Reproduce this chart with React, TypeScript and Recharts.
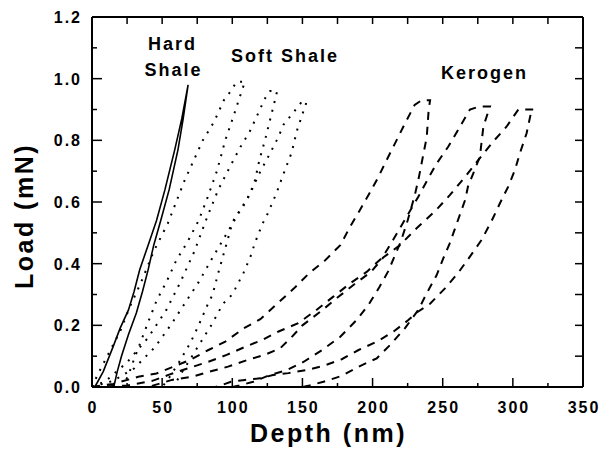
import React from 'react';
import { LineChart, Line, XAxis, YAxis, ReferenceDot, Label } from 'recharts';

type Pt = [number, number];

// depth (nm), load (mN) — loading branch, hold, then unloading branch
const hardShale: Pt[] = [
  [2, 0], [8, 0.05], [15, 0.13], [20, 0.19], [26, 0.25], [30, 0.31], [34, 0.38], [40, 0.46],
  [46, 0.54], [52, 0.64], [59, 0.77], [64, 0.87], [68.5, 0.98],
  [65, 0.87], [61.3, 0.77], [55, 0.64], [49, 0.54], [44, 0.46], [40, 0.38], [36, 0.31],
  [31.6, 0.24], [26, 0.17], [21, 0.1], [18, 0.05], [16, 0.01], [15, 0],
];

const softShale1: Pt[] = [
  [0, 0], [4, 0.04], [12, 0.11], [20, 0.18], [27, 0.26], [35, 0.34], [44, 0.44], [54, 0.53],
  [60, 0.6], [66, 0.67], [73, 0.74], [79, 0.8], [87, 0.86], [94, 0.93], [99, 0.96], [103, 0.99],
  [109, 0.99], [106, 0.95], [101, 0.88], [95, 0.8], [89, 0.7], [82, 0.61], [76, 0.54], [68, 0.47],
  [60, 0.41], [53, 0.34], [46, 0.28], [40, 0.21], [35, 0.15], [30, 0.09], [26, 0.04], [22, 0],
];

const softShale2: Pt[] = [
  [0, 0], [10, 0.02], [25, 0.08], [40, 0.16], [53, 0.25], [63, 0.34], [73, 0.44], [82, 0.55],
  [90, 0.64], [99, 0.72], [106, 0.78], [112.6, 0.83], [119.7, 0.9], [123.3, 0.936], [127, 0.96],
  [132, 0.96], [130.4, 0.93], [126.9, 0.866], [123.3, 0.8], [119.3, 0.736], [116.2, 0.67],
  [112, 0.62], [107.6, 0.585], [101.7, 0.55], [99.3, 0.52], [95, 0.45], [90, 0.37], [86, 0.3],
  [82.7, 0.27], [76, 0.2], [70, 0.142], [62, 0.08], [55, 0.03], [50, 0],
];

const softShale3: Pt[] = [
  [0, 0], [15, 0.02], [30, 0.06], [45, 0.13], [56, 0.2], [66, 0.27], [76, 0.34], [86, 0.42],
  [95, 0.49], [104, 0.56], [113, 0.63], [119, 0.69], [126, 0.75], [132.8, 0.81], [136.4, 0.85],
  [143.5, 0.89], [149.5, 0.925], [153, 0.925], [150.6, 0.893], [146, 0.83], [142.3, 0.76],
  [136.4, 0.69], [131.6, 0.63], [125, 0.56], [121.6, 0.53], [116, 0.466], [113.6, 0.43],
  [108, 0.37], [100, 0.3], [93.4, 0.27], [85, 0.2], [77, 0.142], [70, 0.09], [63, 0.04], [58, 0],
];

const kerogen1: Pt[] = [
  [0, 0], [15, 0.01], [33, 0.033], [46, 0.044], [58, 0.066], [70, 0.088], [83, 0.12], [95, 0.147],
  [108, 0.19], [120, 0.22], [132, 0.27], [144, 0.32], [155, 0.37], [166, 0.41], [177, 0.46],
  [184, 0.52], [191, 0.574], [198, 0.63], [204, 0.68], [210, 0.736], [216, 0.79], [222, 0.845],
  [230, 0.915], [235, 0.93], [241, 0.93], [240, 0.9], [238.6, 0.81], [236, 0.75], [233, 0.68],
  [230, 0.62], [225, 0.54], [220, 0.47], [211, 0.374], [205, 0.325], [197, 0.266], [188.6, 0.217],
  [177, 0.163], [164, 0.12], [151, 0.082], [139, 0.055], [127, 0.039], [115, 0.017], [105, 0.005],
  [100, 0],
];

const kerogen2: Pt[] = [
  [0, 0], [25, 0.005], [43, 0.02], [55, 0.04], [68, 0.06], [83, 0.082], [96, 0.104], [109, 0.13],
  [121, 0.152], [133, 0.18], [147, 0.207], [160, 0.25], [172, 0.293], [184, 0.336], [196, 0.374],
  [207, 0.42], [215, 0.48], [224, 0.55], [232.6, 0.617], [239.7, 0.677], [245.7, 0.725],
  [254, 0.78], [261, 0.834], [269.4, 0.9], [276.5, 0.91], [283.7, 0.91], [279, 0.845],
  [276.5, 0.747], [271.8, 0.693], [268, 0.65], [266, 0.607], [260, 0.53], [255, 0.466],
  [250.4, 0.417], [245.7, 0.363], [238.6, 0.304], [232.6, 0.25], [223, 0.19], [212.4, 0.136],
  [203, 0.093], [191, 0.068], [178, 0.036], [165, 0.017], [155, 0.005], [150, 0],
];

const kerogen3: Pt[] = [
  [0, 0], [40, 0], [57, 0.023], [71, 0.033], [84, 0.05], [97, 0.066], [111, 0.088], [123, 0.104],
  [134, 0.125], [142, 0.16], [150, 0.2], [163, 0.245], [175, 0.29], [187, 0.333], [199, 0.374],
  [207.6, 0.42], [219.5, 0.46], [231.4, 0.515], [244.5, 0.57], [255.2, 0.623], [266, 0.682],
  [275.3, 0.736], [286, 0.796], [295.6, 0.845], [303.9, 0.9], [314.5, 0.9], [313.4, 0.9],
  [309.8, 0.823], [305, 0.758], [301.5, 0.704], [296.7, 0.65], [290.8, 0.596], [285, 0.54],
  [277.7, 0.477], [269.4, 0.423], [261, 0.37], [251.6, 0.32], [241, 0.27], [231, 0.24],
  [225.5, 0.217], [215, 0.18], [203, 0.147], [190, 0.12], [178, 0.09], [166, 0.07], [153, 0.055],
  [140, 0.045], [129, 0.039], [120, 0.028], [109, 0.023], [99, 0.017], [92, 0.005], [88, 0],
];

const depthTicks = [0, 25, 50, 75, 100, 125, 150, 175, 200, 225, 250, 275, 300, 325, 350];
const loadTicks = [0, 0.1, 0.2, 0.3, 0.4, 0.5, 0.6, 0.7, 0.8, 0.9, 1.0, 1.1, 1.2];

const FONT = '"Liberation Sans", Arial, Helvetica, sans-serif';

const toRows = (pts: Pt[]) => pts.map(([x, y]) => ({ x, y }));

const curves = [
  { key: 'hard', pts: hardShale, dash: undefined as string | undefined, w: 1.6 },
  { key: 'soft1', pts: softShale1, dash: '2 7', w: 2 },
  { key: 'soft2', pts: softShale2, dash: '2 7', w: 2 },
  { key: 'soft3', pts: softShale3, dash: '2 7', w: 2 },
  { key: 'ker1', pts: kerogen1, dash: '8 7', w: 2 },
  { key: 'ker2', pts: kerogen2, dash: '8 7', w: 2 },
  { key: 'ker3', pts: kerogen3, dash: '8 7', w: 2 },
];

const isMajorDepth = (v: number) => v % 50 === 0;
const isMajorLoad = (v: number) => Math.round(v * 10) % 2 === 0;

const BottomTick = (props: any) => {
  const { x, y, payload } = props;
  const v = payload.value;
  const major = isMajorDepth(v);
  return (
    <g>
      <line x1={x} x2={x} y1={y} y2={y - (major ? 9 : 4)} stroke="#000" strokeWidth={1.5} />
      {major && (
        <text x={x + 1} y={y + 26} textAnchor="middle" fontSize={16} fontWeight="bold"
          letterSpacing={2} fontFamily={FONT} fill="#000">{v}</text>
      )}
    </g>
  );
};

const LeftTick = (props: any) => {
  const { x, y, payload } = props;
  const v = payload.value;
  const major = isMajorLoad(v);
  return (
    <g>
      <line x1={x} x2={x + (major ? 10 : 5)} y1={y} y2={y} stroke="#000" strokeWidth={1.5} />
      {major && (
        <text x={x - 10} y={y + 6} textAnchor="end" fontSize={16} fontWeight="bold"
          letterSpacing={2} fontFamily={FONT} fill="#000">{v.toFixed(1)}</text>
      )}
    </g>
  );
};

const TopTick = (props: any) => {
  const { x, y } = props;
  return <line x1={x} x2={x} y1={y} y2={y + 7} stroke="#000" strokeWidth={1.5} />;
};

const RightTick = (props: any) => {
  const { x, y } = props;
  return <line x1={x} x2={x - 8} y1={y} y2={y} stroke="#000" strokeWidth={1.5} />;
};

const XTitle = (props: any) => {
  const vb = props.viewBox;
  return (
    <text x={vb.x + vb.width / 2 - 9} y={vb.y + 55} textAnchor="middle" fontSize={25}
      fontWeight="bold" letterSpacing={2.5} fontFamily={FONT} fill="#000">Depth (nm)</text>
  );
};

const YTitle = (props: any) => {
  const vb = props.viewBox;
  const cx = vb.x + 33;
  const cy = vb.y + vb.height / 2 + 14;
  return (
    <text x={cx} y={cy} transform={`rotate(-90 ${cx} ${cy})`} textAnchor="middle" fontSize={25}
      fontWeight="bold" letterSpacing={2.5} fontFamily={FONT} fill="#000">Load (mN)</text>
  );
};

const noteStyle = { fontSize: 18, fontWeight: 'bold', letterSpacing: 2, fontFamily: FONT, fill: '#000' };

export default function App() {
  return (
    <div style={{ position: 'absolute', left: 0, top: 0, width: 600, height: 449, background: '#fff' }}>
      <LineChart width={600} height={449} margin={{ top: 16, right: 16, bottom: 0, left: 0 }}>
        <XAxis dataKey="x" type="number" domain={[0, 350]} ticks={depthTicks} height={62}
          tickSize={0} tickMargin={0} tickLine={false} tick={<BottomTick />} interval={0}
          axisLine={{ stroke: '#000', strokeWidth: 2 }}>
          <Label content={<XTitle />} />
        </XAxis>
        <XAxis xAxisId="top" orientation="top" dataKey="x" type="number" domain={[0, 350]}
          allowDataOverflow ticks={depthTicks} height={1} tickSize={0} tickMargin={0}
          tickLine={false} tick={<TopTick />} interval={0} axisLine={{ stroke: '#000', strokeWidth: 2 }} />
        <YAxis type="number" domain={[0, 1.2]} ticks={loadTicks} width={92} tickSize={0}
          tickMargin={0} tickLine={false} tick={<LeftTick />} interval={0}
          axisLine={{ stroke: '#000', strokeWidth: 2 }}>
          <Label content={<YTitle />} />
        </YAxis>
        <YAxis yAxisId="right" orientation="right" type="number" domain={[0, 1.2]} allowDataOverflow
          ticks={loadTicks} width={1} tickSize={0} tickMargin={0} tickLine={false}
          tick={<RightTick />} interval={0} axisLine={{ stroke: '#000', strokeWidth: 2 }} />
        {curves.map((c) => (
          <Line key={c.key} data={toRows(c.pts)} dataKey="y" type="linear" stroke="#000"
            strokeWidth={c.w} strokeDasharray={c.dash} dot={false} activeDot={false}
            isAnimationActive={false} />
        ))}
        {/* invisible copy so the mirrored top/right frame axes get drawn */}
        <Line data={toRows(hardShale)} dataKey="y" xAxisId="top" yAxisId="right" stroke="none"
          dot={false} activeDot={false} isAnimationActive={false} />
        <ReferenceDot x={57.4} y={1.114} r={0} stroke="none"
          label={{ value: 'Hard', position: 'center', ...noteStyle }} />
        <ReferenceDot x={58.1} y={1.03} r={0} stroke="none"
          label={{ value: 'Shale', position: 'center', ...noteStyle }} />
        <ReferenceDot x={137.6} y={1.075} r={0} stroke="none"
          label={{ value: 'Soft Shale', position: 'center', ...noteStyle }} />
        <ReferenceDot x={279.8} y={1.02} r={0} stroke="none"
          label={{ value: 'Kerogen', position: 'center', ...noteStyle }} />
      </LineChart>
    </div>
  );
}
